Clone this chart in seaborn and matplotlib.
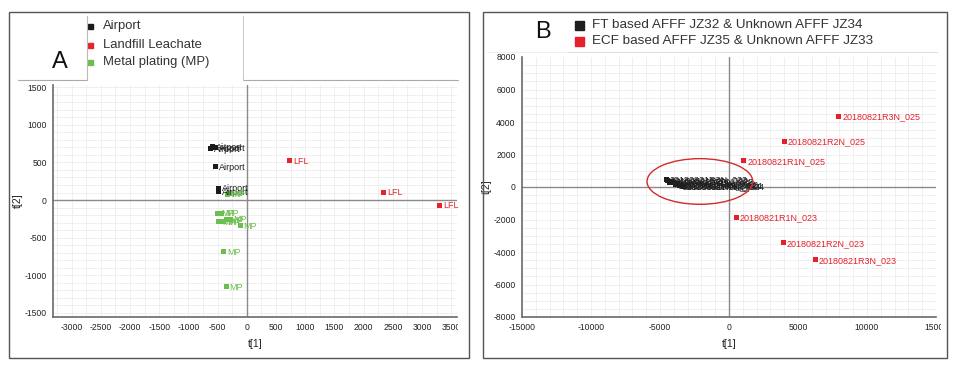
import matplotlib.pyplot as plt
import matplotlib.ticker as mticker
from matplotlib.patches import Rectangle, Ellipse
from matplotlib.lines import Line2D
from matplotlib.transforms import Bbox, TransformedBbox
import seaborn as sns
import pandas as pd
import numpy as np

# ---- data, panel A (scores t[1] / t[2]) ----
groups_a = ["Airport", "Landfill Leachate", "Metal plating (MP)"]
short_a = {"Airport": "Airport", "Landfill Leachate": "LFL", "Metal plating (MP)": "MP"}
colors_a = ["#1b1b1b", "#e8222b", "#6bbf4e"]

airport_t1 = [-630, -583, -544, -532, -487, -487]
airport_t2 = [685, 706, 693, 445, 160, 110]
lfl_t1 = [731, 2344, 3305]
lfl_t2 = [523, 105, -69]
mp_t1 = [-330, -290, -504, -429, -487, -401, -343, -287, -115, -401, -355]
mp_t2 = [80, 90, -174, -174, -283, -283, -265, -252, -340, -688, -1155]

# ---- data, panel B ----
groups_b = ["FT based AFFF JZ32 & Unknown AFFF JZ34", "ECF based AFFF JZ35 & Unknown AFFF JZ33"]
colors_b = ["#1f1f1f", "#e4202a"]

ft_t1 = [-4550, -4450, -4300, -4150, -4000, -3900, -3750, -3600, -3450, -3300]
ft_t2 = [480, 420, 300, 360, 250, 150, 200, 80, 120, 40]
ft_names = ["20180821R3N_022", "20180821R2N_022", "20180821R1N_022", "20180821R3N_022",
            "20180821R2N_022", "20180821R3N_024", "20180821R1N_022", "20180821R2N_024",
            "20180821R3N_024", "20180821R1N_024"]
ecf_t1 = [7950, 4010, 1065, 530, 3940, 6260]
ecf_t2 = [4340, 2800, 1630, -1860, -3440, -4480]
ecf_names = ["20180821R3N_025", "20180821R2N_025", "20180821R1N_025",
             "20180821R1N_023", "20180821R2N_023", "20180821R3N_023"]

# highlighted cluster (centre, width, height in score units)
ellipse_xy = (-2110, 340)
ellipse_w, ellipse_h = 7660, 2810

df_a = pd.DataFrame({
    "t1": airport_t1 + lfl_t1 + mp_t1,
    "t2": airport_t2 + lfl_t2 + mp_t2,
    "group": [groups_a[0]] * len(airport_t1) + [groups_a[1]] * len(lfl_t1) + [groups_a[2]] * len(mp_t1),
})
df_b = pd.DataFrame({
    "t1": ft_t1 + ecf_t1,
    "t2": ft_t2 + ecf_t2,
    "group": [groups_b[0]] * len(ft_t1) + [groups_b[1]] * len(ecf_t1),
    "name": ft_names + ecf_names,
})

sns.set_style("white")
plt.rcParams["font.family"] = ["Liberation Sans Narrow", "Liberation Sans", "DejaVu Sans"]
plt.rcParams["axes.unicode_minus"] = False

W, H = 960, 372
fig = plt.figure(figsize=(W / 100, H / 100), dpi=100)


def fx(x):
    return x / W


def fy(y):
    return 1 - y / H


def fig_line(x0, y0, x1, y1, color="#aaaaaa", lw=0.8):
    fig.add_artist(Line2D([fx(x0), fx(x1)], [fy(y0), fy(y1)], color=color, lw=lw,
                          transform=fig.transFigure))


# outer frames
for x0, x1 in [(9, 469), (483, 947)]:
    fig.add_artist(Rectangle((fx(x0), fy(358)), fx(x1 - x0), (358 - 12) / H, fill=False,
                             edgecolor="#555555", lw=1.0, transform=fig.transFigure))


def style_axes(ax, xmaj, xmin_step, ymaj, ymin_step, xgrid, ygrid, xlim, ylim, clip_right):
    ax.set_xlim(*xlim)
    ax.set_ylim(*ylim)
    ax.xaxis.set_major_locator(mticker.MultipleLocator(xmaj))
    ax.xaxis.set_minor_locator(mticker.MultipleLocator(xmin_step))
    ax.yaxis.set_major_locator(mticker.MultipleLocator(ymaj))
    ax.yaxis.set_minor_locator(mticker.MultipleLocator(ymin_step))
    for gx in np.arange(np.ceil(xlim[0] / xgrid) * xgrid, xlim[1], xgrid):
        ax.axvline(gx, color="#ececec", lw=0.6, zorder=0)
    for gy in np.arange(np.ceil(ylim[0] / ygrid) * ygrid, ylim[1], ygrid):
        ax.axhline(gy, color="#ececec", lw=0.6, zorder=0)
    ax.axhline(0, color="#8a8a8a", lw=1.0, zorder=1)
    ax.axvline(0, color="#8a8a8a", lw=1.0, zorder=1)
    for s in ["top", "right"]:
        ax.spines[s].set_visible(False)
    for s in ["left", "bottom"]:
        ax.spines[s].set_color("#6a6a6a")
        ax.spines[s].set_linewidth(1.2)
    ax.tick_params(which="major", direction="inout", length=4, width=0.8, color="#6a6a6a",
                   labelsize=6.2, pad=2.5, labelcolor="#222222")
    ax.tick_params(which="minor", direction="inout", length=3, width=0.7, color="#6a6a6a")
    ax.set_xlabel("t[1]", fontsize=7.5, color="#222222", labelpad=5)
    ax.set_ylabel("t[2]", fontsize=7.5, color="#222222", labelpad=1)
    # the screenshot cuts the last x tick label at the panel edge
    clip = TransformedBbox(Bbox([[0, 0], [fx(clip_right), 1]]), fig.transFigure)
    for lab in ax.get_xticklabels():
        lab.set_clip_on(True)
        lab.set_clip_box(clip)


# ---- panel A ----
axA = fig.add_axes([fx(53), fy(317), fx(457 - 53), (317 - 85) / H])
style_axes(axA, 500, 250, 500, 250, 250, 100, (-3320, 3600), (-1555, 1530), 458)
sns.scatterplot(data=df_a, x="t1", y="t2", hue="group", hue_order=groups_a, palette=colors_a,
                marker="s", s=13, linewidth=0, legend=False, ax=axA, zorder=3)
for _, r in df_a.iterrows():
    axA.annotate(short_a[r["group"]], (r["t1"], r["t2"]), xytext=(2.5, -0.5), textcoords="offset points",
                 fontsize=6.5, va="center", color=colors_a[groups_a.index(r["group"])], zorder=4)

# ---- panel B ----
axB = fig.add_axes([fx(522), fy(317), fx(936 - 522), (317 - 57) / H])
style_axes(axB, 5000, 2500, 2000, 1000, 1000, 500, (-15000, 15000), (-8000, 8000), 941)
sns.scatterplot(data=df_b, x="t1", y="t2", hue="group", hue_order=groups_b, palette=colors_b,
                marker="s", s=13, linewidth=0, legend=False, ax=axB, zorder=3)
for _, r in df_b.iterrows():
    axB.annotate(r["name"], (r["t1"], r["t2"]), xytext=(2.5, -0.5), textcoords="offset points",
                 fontsize=6.5, va="center", color=colors_b[groups_b.index(r["group"])], zorder=4)
axB.add_patch(Ellipse(ellipse_xy, ellipse_w, ellipse_h, fill=False, edgecolor="#d42b2b", lw=1.0, zorder=5))

# ---- headers / legends ----
fig_line(18, 80, 86.5, 80)
fig_line(243, 80, 458, 80)
fig_line(86.5, 16, 86.5, 80, color="#bbbbbb")
fig_line(243, 16, 243, 80, color="#cccccc")
fig.text(fx(60), fy(62), "A", fontsize=17, ha="center", va="center", family="Liberation Sans", color="#111111")
for i, (g, c) in enumerate(zip(groups_a, colors_a)):
    yy = [26.5, 45, 62.5][i]
    fig.add_artist(Rectangle((fx(88), fy(yy + 2.5)), fx(5), 5 / H, color=c, transform=fig.transFigure))
    fig.text(fx(103), fy(yy), g, fontsize=9.4, va="center", color="#333333")

fig_line(487, 52, 568, 52, color="#eeeeee")
fig_line(568, 52, 937, 52, color="#dddddd")
fig.text(fx(543), fy(32), "B", fontsize=17, ha="center", va="center", family="Liberation Sans", color="#111111")
for i, (g, c) in enumerate(zip(groups_b, colors_b)):
    yy = [25, 41][i]
    fig.add_artist(Rectangle((fx(574.5), fy(yy + 4.5)), fx(9), 9 / H, color=c, transform=fig.transFigure))
    fig.text(fx(592), fy(yy), g, fontsize=9.7, va="center", family="Liberation Sans", color="#333333")

fig.savefig("out.png", dpi=100)
